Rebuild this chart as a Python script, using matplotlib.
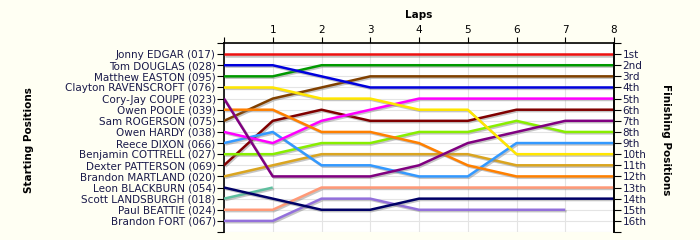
import numpy as np
import matplotlib
matplotlib.use("Agg")
import matplotlib.pyplot as plt
import matplotlib.patheffects as pe

nan = np.nan
laps = [0, 1, 2, 3, 4, 5, 6, 7, 8]
drivers = [
    "Jonny EDGAR (017)", "Tom DOUGLAS (028)", "Matthew EASTON (095)",
    "Clayton RAVENSCROFT (076)", "Cory-Jay COUPE (023)", "Owen POOLE (039)",
    "Sam ROGERSON (075)", "Owen HARDY (038)", "Reece DIXON (066)",
    "Benjamin COTTRELL (027)", "Dexter PATTERSON (069)", "Brandon MARTLAND (020)",
    "Leon BLACKBURN (054)", "Scott LANDSBURGH (018)", "Paul BEATTIE (024)",
    "Brandon FORT (067)",
]
positions = [
    [1, 1, 1, 1, 1, 1, 1, 1, 1],
    [2, 2, 3, 4, 4, 4, 4, 4, 4],
    [3, 3, 2, 2, 2, 2, 2, 2, 2],
    [4, 4, 5, 5, 6, 6, 10, 10, 10],
    [5, 12, 12, 12, 11, 9, 8, 7, 7],
    [6, 6, 8, 8, 9, 11, 12, 12, 12],
    [7, 5, 4, 3, 3, 3, 3, 3, 3],
    [8, 9, 7, 6, 5, 5, 5, 5, 5],
    [9, 8, 11, 11, 12, 12, 9, 9, 9],
    [10, 10, 9, 9, 8, 8, 7, 8, 8],
    [11, 7, 6, 7, 7, 7, 6, 6, 6],
    [12, 11, 10, 10, 10, 10, 11, 11, 11],
    [13, 14, 15, 15, 14, 14, 14, 14, 14],
    [14, 13, nan, nan, nan, nan, nan, nan, nan],
    [15, 15, 13, 13, 13, 13, 13, 13, 13],
    [16, 16, 14, 14, 15, 15, 15, 15, nan],
]
colors = [
    "#EE1111", "#0000DD", "#009900", "#FFE600", "#800080", "#FF8000",
    "#804000", "#FF00FF", "#3399FF", "#88EE00", "#800000", "#DAA520",
    "#000066", "#5FBF9F", "#FF9977", "#9370DB",
]
finish_labels = ["1st", "2nd", "3rd", "4th", "5th", "6th", "7th", "8th", "9th",
                 "10th", "11th", "12th", "13th", "14th", "15th", "16th"]

bg = "#FFFFF3"
txt = "#1a1a4a"
fig = plt.figure(figsize=(7, 2.4), dpi=100, facecolor=bg)
ax = fig.add_axes([224/700, 1 - 232/240, 390/700, 189/240])
ax.set_facecolor("white")

n = len(drivers)
for i in range(n - 1, -1, -1):
    ax.plot(laps, positions[i], color=colors[i], lw=1.8, solid_capstyle="butt",
            path_effects=[pe.SimpleLineShadow(offset=(1, -1), shadow_color="gray", alpha=0.45),
                          pe.Normal()], zorder=3)

ax.set_xlim(0, 8)
ax.set_ylim(17, 0)
ax.set_xticks(laps)
ax.set_xticklabels([""] + [str(l) for l in laps[1:]], fontsize=7.5)
ax.xaxis.tick_top()
ax.tick_params(axis="x", direction="out", length=4, pad=2, colors="black")
ax.set_yticks(range(0, 18))
ax.set_yticklabels([""] + drivers + [""], fontsize=7.5, color=txt)
ax.tick_params(axis="y", direction="out", length=5, pad=1)
ax.grid(True, color="#e4e4e4", lw=0.8, zorder=0)
ax.set_axisbelow(True)
for s in ["left", "right", "top"]:
    ax.spines[s].set_color("black")
    ax.spines[s].set_linewidth(1.2)
ax.spines["bottom"].set_visible(False)

ax2 = ax.twinx()
ax2.set_ylim(17, 0)
ax2.set_yticks(range(0, 18))
ax2.set_yticklabels([""] + finish_labels + [""], fontsize=7.5, color=txt)
ax2.tick_params(axis="y", direction="out", length=5, pad=1)
for s in ["left", "bottom", "top"]:
    ax2.spines[s].set_visible(False)
ax2.spines["right"].set_linewidth(1.2)

fig.text(419/700, 1 - 15/240, "Laps", ha="center", va="center", fontsize=7.5, fontweight="bold")
fig.text(29/700, 1 - 140/240, "Starting Positions", ha="center", va="center",
         rotation=90, fontsize=7.5, fontweight="bold")
fig.text(666/700, 1 - 140/240, "Finishing Positions", ha="center", va="center",
         rotation=-90, fontsize=7.5, fontweight="bold")

fig.savefig("out.png", dpi=100, facecolor=bg)
